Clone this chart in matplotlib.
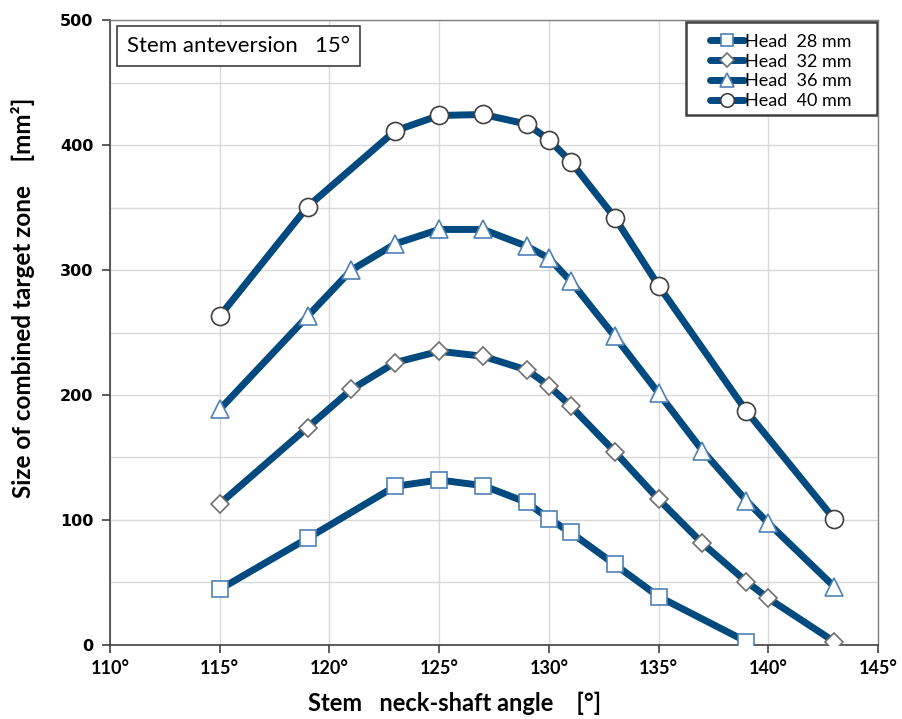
import matplotlib
matplotlib.use("Agg")
import matplotlib.pyplot as plt
from matplotlib.patches import Rectangle
from matplotlib.ticker import MultipleLocator, FuncFormatter

# stem neck-shaft angle [deg] and size of combined target zone [mm^2]
angle_28 = [115, 119, 123, 125, 127, 129, 130, 131, 133, 135, 139]
zone_28 = [44.5, 85.3, 127, 132, 127.5, 114, 101, 90, 64.5, 38.7, 2.7]

angle_32 = [115, 119, 121, 123, 125, 127, 129, 130, 131, 133, 135, 137, 139, 140, 143]
zone_32 = [113, 174, 204.5, 226, 235, 231, 220, 207.5, 191, 154.7, 116.5, 81.3, 50.7, 37.3, 2.7]

angle_36 = [115, 119, 121, 123, 125, 127, 129, 130, 131, 133, 135, 137, 139, 140, 143]
zone_36 = [188.5, 263, 300, 321, 332.5, 332.5, 319, 309.5, 291, 247, 201.5, 155.5, 115.5, 97.5, 46.7]

angle_40 = [115, 119, 123, 125, 127, 129, 130, 131, 133, 135, 139, 143]
zone_40 = [263.2, 350.7, 411.5, 423.7, 424.5, 416.8, 404.3, 386.7, 342, 287.5, 187.2, 100.8]

labels = ["Head  28 mm", "Head  32 mm", "Head  36 mm", "Head  40 mm"]

line_col = "#004A80"

fig = plt.figure(figsize=(9.02, 7.19), dpi=100)
ax = fig.add_axes([0.122, 0.103, 0.8514, 0.869])

series = [
    (angle_28, zone_28, "s", 11.5, "#4F81B5"),
    (angle_32, zone_32, "D", 9.5, "#707070"),
    (angle_36, zone_36, "^", 13.5, "#4F81B5"),
    (angle_40, zone_40, "o", 13, "#404040"),
]
for (x, y, m, ms, ec), lab in zip(series, labels):
    ax.plot(x, y, color=line_col, lw=5, marker=m, ms=ms,
            mfc="white", mec=ec, mew=1.2, label=lab, zorder=3,
            solid_capstyle="round", solid_joinstyle="round")

ax.set_xlim(110, 145)
ax.set_ylim(0, 500)
ax.xaxis.set_major_locator(MultipleLocator(5))
ax.yaxis.set_major_locator(MultipleLocator(100))
ax.yaxis.set_minor_locator(MultipleLocator(50))
ax.xaxis.set_major_formatter(FuncFormatter(lambda v, p: f"{v:.0f}°"))

ax.grid(True, which="both", color="#D9D9D9", lw=1, zorder=0)
ax.set_axisbelow(True)

for s in ["top", "right"]:
    ax.spines[s].set_color("#808080")
    ax.spines[s].set_linewidth(1)
for s in ["left", "bottom"]:
    ax.spines[s].set_color("#404040")
    ax.spines[s].set_linewidth(1.2)

ax.tick_params(axis="y", which="minor", length=0)
ax.tick_params(axis="both", which="major", direction="out", length=6,
               color="#404040", width=1.2)
ax.tick_params(axis="x", pad=5)
ax.tick_params(axis="y", pad=6)

for t in ax.get_xticklabels():
    t.set_fontfamily("Lato")
    t.set_fontweight("bold")
    t.set_fontsize(13)
for t in ax.get_yticklabels():
    t.set_fontfamily("DejaVu Sans")
    t.set_fontweight("bold")
    t.set_fontsize(11.5)

ax.set_xlabel("Stem   neck-shaft angle    [°]", fontfamily="Lato",
              fontweight="bold", fontsize=17)
ax.xaxis.label.set_va("baseline")
ax.xaxis.set_label_coords(0.448, -0.106)
ax.set_ylabel("Size of combined target zone    [mm²]", fontfamily="Lato",
              fontweight="bold", fontsize=17.5)
ax.yaxis.set_label_coords(-0.098, 0.555)

ax.text(0.022, 0.958, "Stem anteversion   15°", transform=ax.transAxes,
        fontfamily="Lato", fontsize=16, va="center", ha="left",
        bbox=dict(boxstyle="square,pad=0.45", fc="white", ec="#404040", lw=1.2))

# legend frame drawn as a separate box so it can be wider than its content
ax.add_patch(Rectangle((0.75, 0.848), 0.249, 0.149, transform=ax.transAxes,
                       fc="white", ec="#404040", lw=1.8, zorder=4))
leg = ax.legend(loc="upper left", bbox_to_anchor=(0.77, 0.993),
                prop={"family": "Lato", "size": 13}, handlelength=1.85,
                handletextpad=0.05, borderpad=0, labelspacing=0.22,
                frameon=False, markerscale=0.75)
leg.set_zorder(5)

fig.savefig("out.png", dpi=100)
